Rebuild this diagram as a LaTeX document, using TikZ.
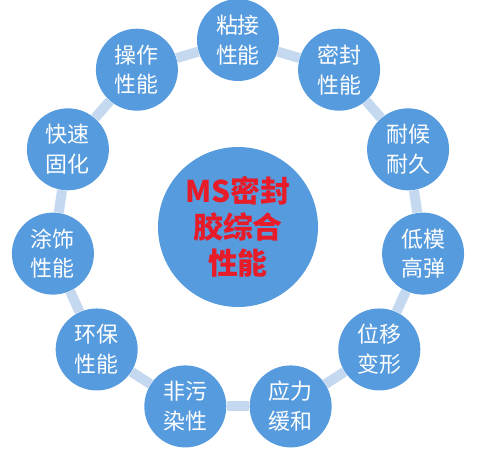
\documentclass[tikz,border=0pt]{standalone}
\usepackage{fontspec}
\usetikzlibrary{calc}
\newfontfamily\cjk{Noto Sans CJK SC}
\definecolor{ballblue}{RGB}{86,155,222}
\definecolor{linkblue}{RGB}{196,217,239}
\definecolor{titlered}{RGB}{232,28,40}

\tikzset{
  ball/.style={circle,fill=ballblue,inner sep=0pt,minimum size=1.64cm,align=center,
    text=white,font=\cjk\fontsize{12.5}{17}\selectfont},
  hub/.style={circle,fill=ballblue,inner sep=0pt,minimum size=3.2cm,align=center,
    text=titlered,font=\cjk\bfseries\fontsize{17}{20.5}\selectfont},
  link/.style={linkblue,line width=0.2cm}
}

\begin{document}
\begin{tikzpicture}
\useasboundingbox (0,0) rectangle (9.6,-9.0);
% centre
\node[hub] (hub) at (4.76,-4.54) {MS密封\\胶综合\\性能};
% ring of properties, clockwise from the top
\foreach \lbl [count=\i] in {粘接\\性能,密封\\性能,耐候\\耐久,低模\\高弹,位移\\变形,应力\\缓和,
  非污\\染性,环保\\性能,涂饰\\性能,快速\\固化,操作\\性能}
  \node[ball] (p\i) at ($(hub)+({90-(\i-1)*360/11}:3.74)$) {\lbl};
\foreach \i in {1,...,11}{
  \pgfmathtruncatemacro\j{mod(\i,11)+1}
  \draw[link] (p\i) -- (p\j);
}
\end{tikzpicture}
\end{document}
